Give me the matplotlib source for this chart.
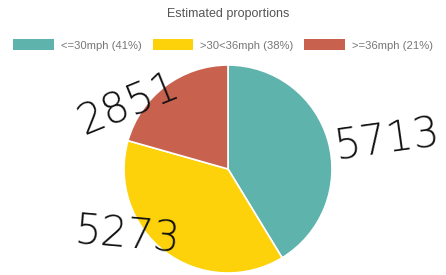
import matplotlib
matplotlib.use("Agg")
import matplotlib.pyplot as plt
from matplotlib.patches import Patch

categories = ["<=30mph", ">30<36mph", ">=36mph"]
counts = [5713, 5273, 2851]
percent_labels = ["41%", "38%", "21%"]
colors = ["#5fb3ad", "#fdd20a", "#c8624f"]
title = "Estimated proportions"
# handwritten annotations: (text, x, y, rotation) in figure pixels
notes = [("5713", 388, 140, 8), ("5273", 128, 236, -5), ("2851", 128, 104, 22)]

W, H = 446, 275
fig = plt.figure(figsize=(W / 100, H / 100), dpi=100)
fig.patch.set_facecolor("white")

cx, cy, r = 228, 169, 104
ax = fig.add_axes([(cx - r) / W, (H - cy - r) / H, 2 * r / W, 2 * r / H])
ax.pie(counts, colors=colors, startangle=90, counterclock=False,
       wedgeprops=dict(edgecolor="white", linewidth=1.2), radius=1)
ax.set_xlim(-1, 1)
ax.set_ylim(-1, 1)
ax.set_aspect("equal")
ax.axis("off")

fig.text(0.512, 1 - 14 / H, title, ha="center", va="center",
         fontsize=9, color="#555555", family="Liberation Sans")

handles = [Patch(facecolor=c, edgecolor="none") for c in colors]
labels = [f"{c} ({p})" for c, p in zip(categories, percent_labels)]
fig.legend(handles, labels, loc="center", bbox_to_anchor=(0.5, 1 - 45 / H),
           ncol=3, frameon=False, handlelength=3.6, handleheight=1.1,
           handletextpad=0.6, columnspacing=1.0,
           prop=dict(family="Liberation Sans", size=8.1),
           labelcolor="#777777")

for t, x, y, rot in notes:
    fig.text(x / W, 1 - y / H, t, ha="center", va="center", rotation=rot,
             fontsize=30, color="#111111", family="DejaVu Sans",
             fontweight="light")

fig.savefig("out.png", dpi=100, facecolor="white")
